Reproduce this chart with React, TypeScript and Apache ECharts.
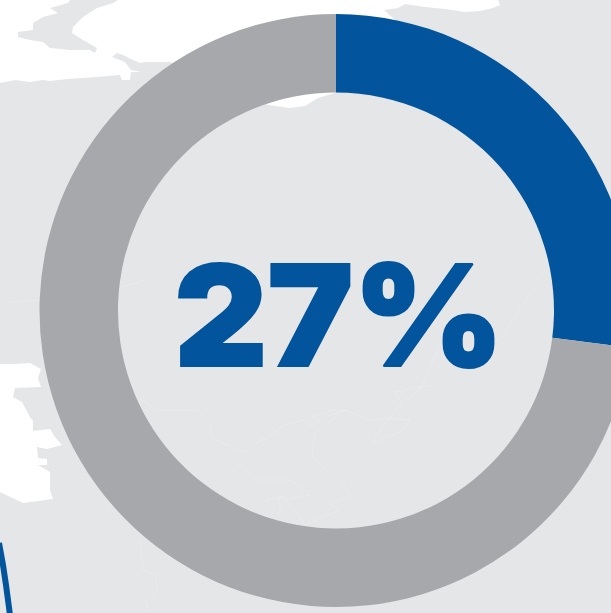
import React, { useEffect, useRef } from "react";
import * as echarts from "echarts";

const sliceNames = ["Share", "Remainder"];
const sliceValues = [27, 73];
const sliceColors = ["#02549C", "#A7A8AB"];
const centerLabel = "27%";

const BG = "#E5E6E8";
const WHITE = "#FFFFFF";

const whiteTop = [
  [0,0],[498,0],[500,5],[493,8],[480,11],[465,12],[445,9],[425,7],[405,4],[398,8],[384,10],[395,20],[400,24],
  [345,90],[318,98],[305,106],[290,108],[268,105],[200,70],[170,62],[145,62],[143,72],[131,72],[130,80],[122,80],[120,75],
  [97,77],[67,79],[50,81],[43,80],[30,82],[15,80],[0,83],
];
const landA = [
  [70,0],[68,3],[50,8],[58,13],[43,17],[33,23],[33,30],[18,32],[18,37],[30,40],[43,42],[50,48],[70,50],[90,50],[95,53],
  [97,48],[83,40],[72,33],[73,27],[83,17],[97,8],[113,3],[118,0],
];
const landB = [[112,57],[117,53],[123,55],[133,60],[140,63],[145,62],[146,73],[131,70],[125,62]];
const whiteLeft = [
  [0,364],[13,364],[30,363],[41,369],[38,378],[41,387],[15,388],[13,397],[22,402],[30,417],[33,421],[33,431],
  [50,429],[55,437],[62,445],[47,449],[37,447],[38,458],[47,459],[47,465],[38,465],[50,472],[50,490],[53,499],[23,503],[0,492],
];
const border1 = [[135,395],[157,410],[197,410],[210,425],[212,438],[220,442],[240,450],[245,452],[258,442],[268,437],[285,425],[303,420],[310,425],[320,422],[312,417],[333,410],[345,410],[315,433],[312,455],[326,470]];
const border2 = [[325,417],[345,410],[368,420],[390,418],[410,420],[402,430],[400,432],[373,443],[383,425],[402,403],[395,392],[430,385]];
const border3 = [[230,475],[240,465],[255,480],[290,480],[310,495],[285,500],[280,495],[280,515],[265,500],[283,497],[295,510],[305,525],[340,510],[330,505],[345,497],[350,495],[340,478],[330,470]];
const border4 = [[140,540],[143,570],[155,575],[158,590],[145,600],[150,612]];
const border5 = [[5,303],[60,298],[110,290],[145,280]];
const border6 = [[545,270],[500,340],[470,350],[440,345],[420,390],[405,400]];
const blueArc = [[-1,543],[3,565],[6,585],[10,615]];

const poly = (points: number[][], fill: string) => ({ type: "polygon", silent: true, shape: { points }, style: { fill } });
const line = (points: number[][]) => ({
  type: "polyline", silent: true, shape: { points },
  style: { stroke: "#FFFFFF", opacity: 0.18, lineWidth: 1, fill: "none" },
});

export default function App() {
  const ref = useRef<HTMLDivElement>(null);
  useEffect(() => {
    document.body.style.margin = "0";
    const chart = echarts.init(ref.current!, undefined, { renderer: "svg" });
    chart.setOption({
      animation: false,
      backgroundColor: BG,
      tooltip: { show: false },
      legend: { show: false },
      graphic: [
        {
          type: "group", z: -1, silent: true,
          children: [
            poly(whiteTop, WHITE), poly(landA, BG), poly(landB, BG), poly(whiteLeft, WHITE),
            line(border1), line(border2), line(border3), line(border4), line(border5), line(border6),
            {
              type: "polyline", shape: { points: blueArc },
              style: { stroke: sliceColors[0], lineWidth: 6, fill: "none" },
            },
          ],
        },
        {
          type: "text", z: 10, silent: true, x: 339, y: 315, scaleX: 1.03, scaleY: 1,
          style: {
            text: centerLabel, fill: sliceColors[0], stroke: sliceColors[0], lineWidth: 2,
            font: "900 140px Inter, sans-serif",
            textAlign: "center", textVerticalAlign: "middle",
          },
        },
      ],
      series: [
        {
          type: "pie",
          center: [336, 310.5],
          radius: [218, 296.5],
          startAngle: 90,
          clockwise: true,
          silent: true,
          label: { show: false },
          labelLine: { show: false },
          data: sliceNames.map((name, i) => ({ name, value: sliceValues[i], itemStyle: { color: sliceColors[i] } })),
        },
      ],
    });
    return () => chart.dispose();
  }, []);
  return <div ref={ref} style={{ width: 611, height: 613 }} />;
}
